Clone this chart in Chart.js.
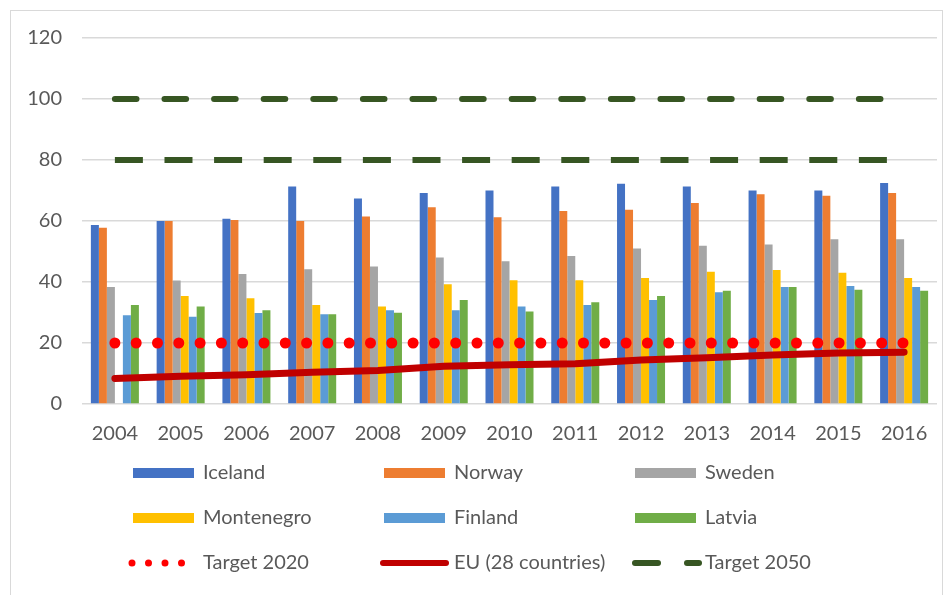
<!DOCTYPE html>
<html>
<head>
<meta charset="utf-8">
<script src="https://cdn.jsdelivr.net/npm/chart.js@4/dist/chart.umd.min.js"></script>
<style>
	body{margin:0;background:#fff;}
	#wrap{position:relative;width:952px;height:595px;overflow:hidden;}
	#frame{position:absolute;left:10px;top:10px;width:931px;height:600px;border:1.5px solid #d9d9d9;}
	#chart{position:absolute;left:0;top:0;}
</style>
</head>
<body>
<div id="wrap">
	<div id="frame"></div>
	<canvas id="chart" width="952" height="595"></canvas>
</div>
<script>
var years = ['2004','2005','2006','2007','2008','2009','2010','2011','2012','2013','2014','2015','2016'];
var yTicks = [0,20,40,60,80,100,120];

var iceland    = [58.7,60.0,60.7,71.3,67.4,69.2,70.0,71.3,72.2,71.3,70.0,70.0,72.5];
var norway     = [57.8,60.0,60.3,60.0,61.5,64.5,61.2,63.3,63.7,65.9,68.8,68.3,69.2];
var sweden     = [38.4,40.5,42.6,44.2,45.1,48.0,46.8,48.5,51.0,51.9,52.3,54.0,54.0];
var montenegro = [null,35.4,34.7,32.5,32.0,39.3,40.6,40.6,41.3,43.4,43.9,43.0,41.3];
var finland    = [29.1,28.6,29.8,29.4,30.7,30.7,32.0,32.5,34.1,36.6,38.4,38.7,38.4];
var latvia     = [32.5,32.0,30.7,29.4,29.9,34.1,30.3,33.4,35.4,37.1,38.4,37.5,37.1];
var target2020 = [20,20,20,20,20,20,20,20,20,20,20,20,20];
var eu28       = [8.4,9.1,9.6,10.4,11.0,12.4,12.9,13.2,14.4,15.2,16.1,16.7,17.0];
var target2050High = [100,100,100,100,100,100,100,100,100,100,100,100,100];
var target2050Low  = [80,80,80,80,80,80,80,80,80,80,80,80,80];

var FONT = 'Lato, "Open Sans", sans-serif';
var TEXT = '#595959';

function barSet(label, data, color){
	return {type:'bar', label:label, data:data, backgroundColor:color, order:2,
		barPercentage:1.0, categoryPercentage:0.73};
}
function lineSet(label, data, color, width, dash, cap){
	return {type:'line', label:label, data:data, borderColor:color, backgroundColor:color,
		borderWidth:width, borderDash:dash, borderCapStyle:cap, pointRadius:0,
		tension:0, fill:false, order:1};
}

var datasets = [
	barSet('Iceland', iceland, '#4472C4'),
	barSet('Norway', norway, '#ED7D31'),
	barSet('Sweden', sweden, '#A5A5A5'),
	barSet('Montenegro', montenegro, '#FFC000'),
	barSet('Finland', finland, '#5B9BD5'),
	barSet('Latvia', latvia, '#70AD47'),
	lineSet('Target 2020', target2020, '#FF0000', 11, [0,21.3], 'round'),
	lineSet('EU (28 countries)', eu28, '#C00000', 7, [], 'round'),
	lineSet('Target 2050', target2050High, '#375623', 6, [21.6,28], 'round'),
	lineSet('', target2050Low, '#375623', 6, [28,21.6], 'butt')
];

// legend drawn as a 3 column grid, like the spreadsheet one
var gridLegend = {
	id:'gridLegend',
	afterDraw:function(chart){
		var ctx = chart.ctx;
		var items = chart.data.datasets.filter(function(d){ return d.label !== ''; });
		ctx.save();
		ctx.font = '20px ' + FONT;
		ctx.textBaseline = 'middle';
		items.forEach(function(d, i){
			var x = 133 + (i % 3) * 251;
			var y = 473 + Math.floor(i / 3) * 45;
			ctx.lineCap = 'round';
			ctx.setLineDash([]);
			ctx.strokeStyle = d.borderColor;
			if(d.type === 'bar'){
				ctx.fillStyle = d.backgroundColor;
				ctx.fillRect(x, y - 5, 61, 10);
			}else if(d.label === 'Target 2020'){
				ctx.lineWidth = 7;
				ctx.setLineDash([0,16.5]);
				ctx.beginPath(); ctx.moveTo(x-1, y); ctx.lineTo(x+52, y); ctx.stroke();
			}else if(d.label === 'Target 2050'){
				ctx.lineWidth = d.borderWidth;
				ctx.beginPath(); ctx.moveTo(x, y); ctx.lineTo(x+23, y); ctx.stroke();
				ctx.beginPath(); ctx.moveTo(x+52, y); ctx.lineTo(x+64, y); ctx.stroke();
			}else{
				ctx.lineWidth = 6;
				ctx.beginPath(); ctx.moveTo(x-1, y); ctx.lineTo(x+62, y); ctx.stroke();
			}
			ctx.fillStyle = TEXT;
			ctx.fillText(d.label, x + 70, y);
		});
		ctx.restore();
	}
};

new Chart(document.getElementById('chart'), {
	data:{labels:years, datasets:datasets},
	options:{
		responsive:false,
		animation:false,
		layout:{padding:{left:0, right:15, top:38, bottom:139}},
		plugins:{legend:{display:false}, tooltip:{enabled:false}},
		scales:{
			x:{
				grid:{display:false},
				border:{display:false},
				ticks:{color:TEXT, font:{family:FONT, size:20}, padding:10, maxRotation:0}
			},
			y:{
				min:0, max:120,
				afterFit:function(scale){ scale.width = 82; },
				afterBuildTicks:function(scale){
					scale.ticks = yTicks.map(function(v){ return {value:v}; });
				},
				grid:{color:'#D9D9D9', lineWidth:1.5, drawTicks:false},
				border:{display:false},
				ticks:{color:TEXT, font:{family:FONT, size:20}, padding:20}
			}
		}
	},
	plugins:[gridLegend]
});
</script>
</body>
</html>
